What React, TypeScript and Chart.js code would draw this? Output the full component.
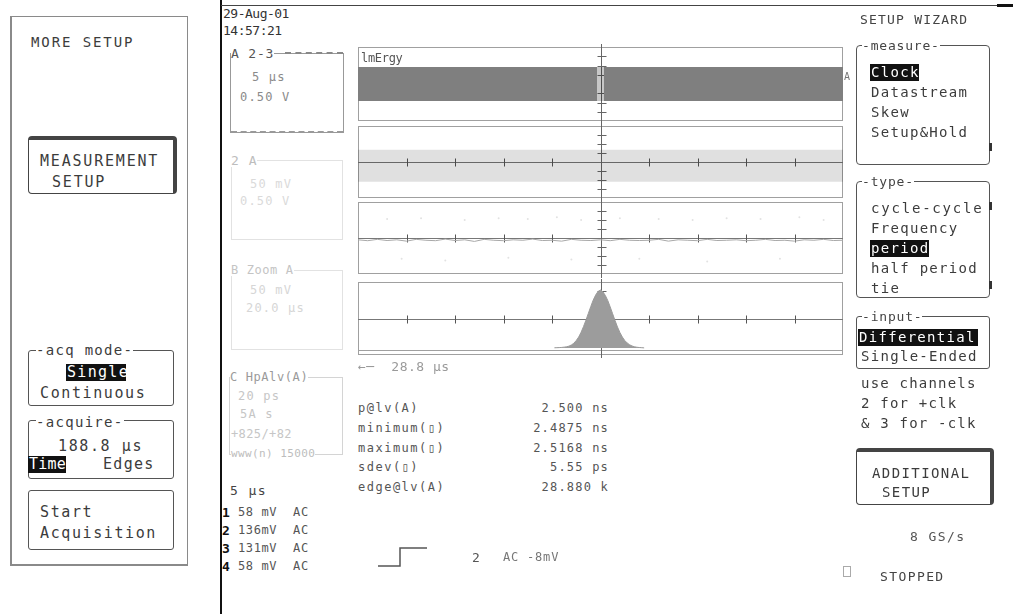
import React, { useEffect, useRef } from 'react';
import { Chart, registerables } from 'chart.js';
Chart.register(...registerables);

// ---------------- data (screen divisions) ----------------
const xRange = [0, 10];
const p1Band = [-1.84, 1.84];
const p1SegStart = [0, 5.07];
const p1SegEnd = [4.93, 10];
const p2Band = [-2.2, 1.35];
const p3Noise = [-0.2, -0.3, -0.15, -0.28, -0.2, -0.35, -0.15, -0.25, -0.3, -0.12, -0.28, -0.2, -0.38, -0.15, -0.25, -0.3, -0.2, -0.25, -0.12, -0.28, -0.25, -0.35, -0.15, -0.25, -0.28, -0.2, -0.3, -0.15, -0.25, -0.28, -0.25, -0.15, -0.35, -0.2, -0.25, -0.3, -0.15, -0.28, -0.25, -0.2, -0.3, -0.25, -0.15, -0.28, -0.25, -0.35, -0.2, -0.25, -0.15, -0.28, -0.25];
const p3DotsX = [0.6, 1.3, 2.2, 2.9, 3.5, 4.1, 4.6, 5.4, 6.2, 6.9, 7.6, 8.3, 9.1, 9.6, 0.9, 1.8, 3.1, 4.4, 5.8, 7.2, 8.7];
const p3DotsY = [2.1, 2.2, 2.0, 2.2, 2.1, 2.3, 2.0, 2.2, 2.1, 2.0, 2.2, 2.1, 2.3, 2.0, -2.3, -2.5, -2.2, -2.4, -2.3, -2.6, -2.3];
const histStart = 4.05;
const histStep = 0.05;
const histCounts = [0.02, 0.03, 0.04, 0.06, 0.09, 0.13, 0.2, 0.33, 0.52, 0.82, 1.2, 1.72, 2.35, 3.05, 3.8, 4.55, 5.25, 5.8, 6.2, 6.35, 6.15, 5.75, 5.2, 4.5, 3.75, 3.0, 2.3, 1.7, 1.2, 0.82, 0.55, 0.35, 0.22, 0.13, 0.08, 0.05, 0.03, 0.01];

const measLabels = ['p@lv(A)', 'minimum(▯)', 'maximum(▯)', 'sdev(▯)', 'edge@lv(A)'];
const measValues = ['2.500 ns', '2.4875 ns', '2.5168 ns', '5.55 ps', '28.880 k'];
const chanNums = ['1', '2', '3', '4'];
const chanScale = ['58 mV', '136mV', '131mV', '58 mV'];
const chanCoupling = ['AC', 'AC', 'AC', 'AC'];

const PLOT_LEFT = 358;
const PLOT_RIGHT = 843;
const PAD_X = 8;
const PAD_Y = 3;

// ---------------- graticule plugin ----------------
const scopePlugin = {
  id: 'scope',
  beforeDatasetsDraw(chart: any, _a: any, opts: any) {
    const { ctx, chartArea: a, scales } = chart;
    const xs = scales.x, ys = scales.y;
    const mid = (ys.min + ys.max) / 2;
    const cx = Math.round(xs.getPixelForValue(5)) + 0.5;
    const cy = Math.round(ys.getPixelForValue(mid)) + 0.5;
    ctx.save();
    ctx.lineWidth = 1;
    ctx.strokeStyle = '#a0a0a0';
    ctx.strokeRect(a.left + 0.5, a.top + 0.5, a.width - 1, a.height - 1);
    (opts.extraLines || []).forEach((v: number) => {
      const y = Math.round(ys.getPixelForValue(v)) + 0.5;
      ctx.beginPath(); ctx.moveTo(a.left, y); ctx.lineTo(a.right, y); ctx.stroke();
    });
    if (opts.hLine) {
      ctx.strokeStyle = '#777';
      ctx.beginPath(); ctx.moveTo(a.left, cy); ctx.lineTo(a.right, cy); ctx.stroke();
      ctx.strokeStyle = '#555';
      for (let k = 1; k < 10; k++) {
        const x = Math.round(xs.getPixelForValue(k)) + 0.5;
        ctx.beginPath(); ctx.moveTo(x, cy - 4); ctx.lineTo(x, cy + 4); ctx.stroke();
      }
    }
    ctx.strokeStyle = '#666';
    ctx.beginPath(); ctx.moveTo(cx, 0); ctx.lineTo(cx, chart.height); ctx.stroke();
    for (let k = -3; k <= 3; k++) {
      if (k === 0) continue;
      const y = Math.round(ys.getPixelForValue(mid + k)) + 0.5;
      ctx.beginPath(); ctx.moveTo(cx - 4, y); ctx.lineTo(cx + 5, y); ctx.stroke();
    }
    ctx.restore();
  },
};

const flat = (x0: number, x1: number, y: number) => [{ x: x0, y }, { x: x1, y }];
const bandStyle = (color: string | false, order: number) => ({
  borderColor: 'transparent', borderWidth: 0, pointRadius: 0, order,
  fill: color ? '-1' : false, backgroundColor: color || 'transparent',
});

function panel1() {
  const ds: any[] = [];
  p1SegStart.forEach((s, i) => {
    ds.push({ data: flat(s, p1SegEnd[i], p1Band[0]), ...bandStyle(false, 0) });
    ds.push({ data: flat(s, p1SegEnd[i], p1Band[1]), ...bandStyle('#7f7f7f', 0) });
  });
  ds.push({ data: flat(xRange[0], xRange[1], p1Band[0]), ...bandStyle(false, 1) });
  ds.push({ data: flat(xRange[0], xRange[1], p1Band[1]), ...bandStyle('rgba(0,0,0,0.22)', 1) });
  return ds;
}
function panel2() {
  return [
    { data: flat(xRange[0], xRange[1], p2Band[0]), ...bandStyle(false, 0) },
    { data: flat(xRange[0], xRange[1], p2Band[1]), ...bandStyle('rgba(0,0,0,0.12)', 0) },
  ];
}
function panel3() {
  const step = (xRange[1] - xRange[0]) / (p3Noise.length - 1);
  return [
    { data: p3Noise.map((y, i) => ({ x: xRange[0] + i * step, y })), borderColor: '#a8a8a8', borderWidth: 1, pointRadius: 0, fill: false },
    { data: p3DotsX.map((x, i) => ({ x, y: p3DotsY[i] })), showLine: false, pointRadius: 1, pointBorderWidth: 0, pointBackgroundColor: '#e2e2e2', borderColor: 'transparent', fill: false },
  ];
}
function panel4() {
  return [
    { data: histCounts.map((y, i) => ({ x: histStart + i * histStep, y })), borderColor: '#9a9a9a', borderWidth: 1, backgroundColor: '#9c9c9c', pointRadius: 0, fill: 'origin' },
  ];
}

function ScopePanel({ top, bottom, build, yMin, yMax, hLine, extraLines }: any) {
  const ref = useRef<HTMLCanvasElement>(null);
  const w = PLOT_RIGHT - PLOT_LEFT + 2 * PAD_X;
  const h = bottom - top + 2 * PAD_Y;
  useEffect(() => {
    const chart = new Chart(ref.current as HTMLCanvasElement, {
      type: 'line',
      data: { datasets: build() },
      options: {
        responsive: false,
        animation: false,
        devicePixelRatio: 1,
        layout: { padding: { left: PAD_X, right: PAD_X, top: PAD_Y, bottom: PAD_Y } },
        plugins: { legend: { display: false }, tooltip: { enabled: false }, scope: { hLine, extraLines } } as any,
        scales: {
          x: { type: 'linear', min: xRange[0], max: xRange[1], display: false },
          y: { type: 'linear', min: yMin, max: yMax, display: false },
        },
        elements: { line: { tension: 0 } },
      },
      plugins: [scopePlugin],
    });
    return () => chart.destroy();
  }, []);
  return <canvas ref={ref} width={w} height={h} style={{ position: 'absolute', left: PLOT_LEFT - PAD_X, top: top - PAD_Y, width: w, height: h }} />;
}

// ---------------- text helpers ----------------
const FONT = "'DejaVu Sans Mono', monospace";
function T({ x, y, s = 14, ls = 1.3, c = '#3c3c3c', bg, bold, right, children }: any) {
  return (
    <div style={{
      position: 'absolute', left: right ? undefined : x, right: right ? 1013 - x : undefined,
      top: y - s * 0.5, fontSize: s, lineHeight: `${s}px`, letterSpacing: ls, color: c,
      background: bg, fontWeight: bold ? 700 : 400, whiteSpace: 'pre', fontFamily: FONT,
    }}>{children}</div>
  );
}
function HL({ x, y, w, s = 14, ls = 1.3, children }: any) {
  return (
    <div style={{
      position: 'absolute', left: x, top: y - 8, width: w, height: 17, background: '#111', color: '#fff',
      fontSize: s, lineHeight: '17px', letterSpacing: ls, fontFamily: FONT, whiteSpace: 'pre', paddingLeft: 1, boxSizing: 'border-box',
    }}>{children}</div>
  );
}
function Box({ x, y, w, h, c = '#555', r = 3, bt = 1, br = 1, bb = 1, bl = 1, style = 'solid', extra }: any) {
  return (
    <div style={{
      position: 'absolute', left: x, top: y, width: w, height: h, boxSizing: 'border-box',
      borderStyle: style, borderColor: c, borderTopWidth: bt, borderRightWidth: br, borderBottomWidth: bb, borderLeftWidth: bl,
      borderRadius: r, ...extra,
    }} />
  );
}

export default function App() {
  const rowsY = [408, 428, 448, 467, 487];
  const chanY = [512, 530, 548, 566];
  return (
    <div style={{ position: 'absolute', left: 0, top: 0, width: 1013, height: 614, background: '#fff', overflow: 'hidden', fontFamily: FONT }}>
      {/* left menu panel */}
      <Box x={10} y={16} w={178} h={550} c="#8a8a8a" r={0} bl={2} bb={2} />
      <T x={31} y={42} s={14} ls={1.9}>MORE SETUP</T>
      <Box x={28} y={136} w={149} h={58} c="#444" r={4} bt={4} br={4} />
      <T x={40} y={161} s={15} ls={1.8}>MEASUREMENT</T>
      <T x={52} y={182} s={15} ls={1.8}>SETUP</T>

      <Box x={28} y={350} w={146} h={56} c="#555" />
      <T x={36} y={350} s={14} ls={1.3} bg="#fff">-acq mode-</T>
      <HL x={66} y={372} w={60} s={15} ls={1.3}>Single</HL>
      <T x={40} y={393} s={15} ls={1.6}>Continuous</T>

      <Box x={28} y={420} w={146} h={59} c="#555" />
      <T x={36} y={422} s={14} ls={1.3} bg="#fff">-acquire-</T>
      <T x={58} y={446} s={15} ls={1.6}>188.8 µs</T>
      <HL x={28} y={464} w={38} s={15} ls={0.2}>Time</HL>
      <T x={103} y={464} s={15} ls={1.3}>Edges</T>

      <Box x={28} y={490} w={146} h={60} c="#555" />
      <T x={40} y={512} s={15} ls={1.6}>Start</T>
      <T x={40} y={533} s={15} ls={1.6}>Acquisition</T>

      {/* screen border */}
      <div style={{ position: 'absolute', left: 220, top: 0, width: 2, height: 614, background: '#111' }} />
      <div style={{ position: 'absolute', left: 221, top: 5, width: 776, height: 1, background: '#444' }} />
      <div style={{ position: 'absolute', left: 997, top: 4, width: 16, height: 3, background: '#111' }} />

      <T x={223} y={13} s={13} ls={-0.5} c="#333">29-Aug-01</T>
      <T x={223} y={30} s={13} ls={-0.5} c="#333">14:57:21</T>

      {/* trace descriptor boxes */}
      <Box x={230} y={53} w={114} h={80} c="#999" r={0} />
      <div style={{ position: 'absolute', left: 285, top: 52, width: 58, height: 0, borderTop: '2px dashed #888' }} />
      <div style={{ position: 'absolute', left: 231, top: 131, width: 112, height: 0, borderTop: '2px dashed #999' }} />
      <T x={231} y={53} s={13} ls={0.8} c="#555" bg="#fff">A 2-3</T>
      <T x={252} y={77} s={12} ls={1.2} c="#8a8a8a">5 µs</T>
      <T x={240} y={97} s={12} ls={1.2} c="#8a8a8a">0.50 V</T>

      <Box x={231} y={160} w={112} h={80} c="#e2e2e2" r={0} />
      <T x={231} y={160} s={13} ls={1} c="#bdbdbd" bg="#fff">2 A</T>
      <T x={250} y={184} s={12} ls={1.2} c="#dadada">50 mV</T>
      <T x={240} y={201} s={12} ls={1.2} c="#dadada">0.50 V</T>

      <Box x={231} y={270} w={112} h={80} c="#e2e2e2" r={0} />
      <T x={231} y={270} s={12} ls={0.6} c="#c4c4c4" bg="#fff">B Zoom A</T>
      <T x={250} y={290} s={12} ls={1.2} c="#d6d6d6">50 mV</T>
      <T x={246} y={308} s={12} ls={1.2} c="#d6d6d6">20.0 µs</T>

      <Box x={229} y={377} w={114} h={78} c="#d4d4d4" r={0} />
      <T x={230} y={377} s={12} ls={0.6} c="#9a9a9a" bg="#fff">C HpAlv(A)</T>
      <T x={238} y={396} s={12} ls={1.2} c="#c6c6c6">20 ps</T>
      <T x={240} y={414} s={12} ls={1.2} c="#c6c6c6">5A s</T>
      <T x={231} y={434} s={12} ls={0.4} c="#c6c6c6">+825/+82</T>
      <T x={231} y={453} s={11} ls={0.4} c="#bdbdbd" bg="#fff">www(n) 15000</T>

      <T x={230} y={490} s={13} ls={1.4} c="#444">5 µs</T>
      {chanNums.map((n, i) => (
        <React.Fragment key={n}>
          <T x={222} y={chanY[i]} s={13} ls={0} c="#111" bold>{n}</T>
          <T x={238} y={chanY[i]} s={12} ls={0.6} c="#555">{chanScale[i]}</T>
          <T x={293} y={chanY[i]} s={12} ls={0.8} c="#555">{chanCoupling[i]}</T>
        </React.Fragment>
      ))}

      {/* trace panels */}
      <ScopePanel top={47} bottom={121} build={panel1} yMin={-4} yMax={4} hLine={false} />
      <ScopePanel top={126} bottom={198} build={panel2} yMin={-4} yMax={4} hLine={true} />
      <ScopePanel top={201} bottom={275} build={panel3} yMin={-4} yMax={4} hLine={true} />
      <ScopePanel top={282} bottom={355} build={panel4} yMin={-0.77} yMax={7.23} hLine={true} extraLines={[-0.25]} />
      <T x={361} y={58} s={12} ls={-0.3} c="#555">lmErgy</T>
      <T x={844} y={77} s={10} ls={0} c="#777">A</T>

      <T x={358} y={366} s={13} ls={0.5} c="#9a9a9a">←─  28.8 µs</T>

      {/* measurements */}
      {measLabels.map((l, i) => (
        <React.Fragment key={l}>
          <T x={358} y={rowsY[i]} s={12} ls={1.5} c="#555">{l}</T>
          <T x={609} y={rowsY[i]} s={12} ls={1.2} c="#555" right>{measValues[i]}</T>
        </React.Fragment>
      ))}

      <svg style={{ position: 'absolute', left: 0, top: 0 }} width={1013} height={614}>
        <polyline points="378,566 400,566 400,548 427,548" fill="none" stroke="#555" strokeWidth={1.5} />
      </svg>
      <T x={472} y={557} s={13} ls={1} c="#555">2</T>
      <T x={503} y={557} s={12} ls={0.8} c="#777">AC -8mV</T>

      {/* right wizard panel */}
      <T x={860} y={19} s={13} ls={1.2} c="#444">SETUP WIZARD</T>
      <Box x={856} y={45} w={134} h={120} c="#555" r={4} />
      <T x={862} y={45} s={13} ls={0.8} c="#444" bg="#fff">-measure-</T>
      <HL x={870} y={72} w={49} s={14} ls={1.3}>Clock</HL>
      <T x={871} y={92} s={14} ls={1.3}>Datastream</T>
      <T x={871} y={112} s={14} ls={1.3}>Skew</T>
      <T x={871} y={132} s={14} ls={1.3}>Setup&amp;Hold</T>
      <div style={{ position: 'absolute', left: 989, top: 143, width: 3, height: 8, background: '#333' }} />

      <Box x={856} y={181} w={134} h={117} c="#555" r={4} />
      <T x={862} y={181} s={13} ls={0.8} c="#444" bg="#fff">-type-</T>
      <T x={871} y={208} s={14} ls={1.8}>cycle-cycle</T>
      <T x={871} y={228} s={14} ls={1.3}>Frequency</T>
      <HL x={870} y={248} w={59} s={14} ls={1.3}>period</HL>
      <T x={871} y={268} s={14} ls={1.3}>half period</T>
      <T x={871} y={288} s={14} ls={1.3}>tie</T>
      <div style={{ position: 'absolute', left: 989, top: 202, width: 3, height: 8, background: '#333' }} />
      <div style={{ position: 'absolute', left: 989, top: 281, width: 3, height: 8, background: '#333' }} />

      <Box x={856} y={316} w={134} h={53} c="#555" r={3} />
      <T x={862} y={316} s={13} ls={0.8} c="#444" bg="#fff">-input-</T>
      <HL x={858} y={337} w={120} s={14} ls={1.3}>Differential</HL>
      <T x={861} y={356} s={14} ls={1.3}>Single-Ended</T>

      <T x={861} y={383} s={14} ls={1.2}>use channels</T>
      <T x={861} y={403} s={14} ls={1.2}>2 for +clk</T>
      <T x={861} y={423} s={14} ls={1.2}>&amp; 3 for -clk</T>

      <Box x={856} y={448} w={138} h={57} c="#444" r={4} bt={4} br={4} />
      <T x={872} y={473} s={14} ls={1.4}>ADDITIONAL</T>
      <T x={882} y={492} s={14} ls={1.4}>SETUP</T>

      <T x={910} y={536} s={13} ls={1.4} c="#555">8 GS/s</T>
      <Box x={843} y={566} w={8} h={11} c="#aaa" r={0} />
      <T x={880} y={576} s={13} ls={1.4} c="#444">STOPPED</T>
    </div>
  );
}
